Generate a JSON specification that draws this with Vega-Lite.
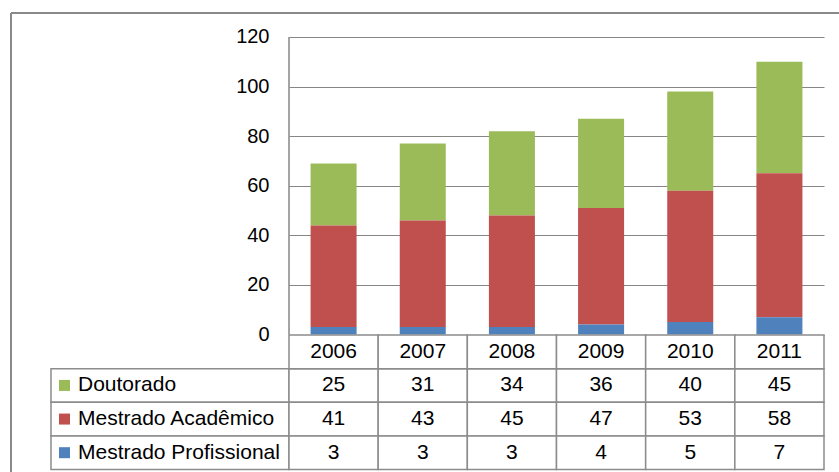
{
  "$schema": "https://vega.github.io/schema/vega-lite/v6.json",
  "padding": {"left": 10, "top": 12, "right": 0, "bottom": 0},
  "background": "white",
  "config": {"view": {"stroke": null}, "font": "Liberation Sans", "concat": {"spacing": 0}},
  "datasets": {
    "d": [
      {"year": "2006", "series": "Doutorado", "value": 25},
      {"year": "2007", "series": "Doutorado", "value": 31},
      {"year": "2008", "series": "Doutorado", "value": 34},
      {"year": "2009", "series": "Doutorado", "value": 36},
      {"year": "2010", "series": "Doutorado", "value": 40},
      {"year": "2011", "series": "Doutorado", "value": 45},
      {"year": "2006", "series": "Mestrado Acadêmico", "value": 41},
      {"year": "2007", "series": "Mestrado Acadêmico", "value": 43},
      {"year": "2008", "series": "Mestrado Acadêmico", "value": 45},
      {"year": "2009", "series": "Mestrado Acadêmico", "value": 47},
      {"year": "2010", "series": "Mestrado Acadêmico", "value": 53},
      {"year": "2011", "series": "Mestrado Acadêmico", "value": 58},
      {"year": "2006", "series": "Mestrado Profissional", "value": 3},
      {"year": "2007", "series": "Mestrado Profissional", "value": 3},
      {"year": "2008", "series": "Mestrado Profissional", "value": 3},
      {"year": "2009", "series": "Mestrado Profissional", "value": 4},
      {"year": "2010", "series": "Mestrado Profissional", "value": 5},
      {"year": "2011", "series": "Mestrado Profissional", "value": 7}
    ]
  },
  "columns": 2,
  "spacing": 0,
  "bounds": "flush",
  "concat": [
    {
      "width": 278,
      "height": 321.5,
      "data": {"values": [{"k": 1}]},
      "layer": [
        {
          "mark": {"type": "rule", "color": "#898989", "strokeWidth": 2},
          "encoding": {
            "x": {"datum": 0, "type": "quantitative", "scale": {"domain": [0, 1], "nice": false, "zero": false}, "axis": null},
            "x2": {"datum": 2.982},
            "y": {"datum": 1, "type": "quantitative", "scale": {"domain": [0, 1], "nice": false, "zero": false}, "axis": null}
          }
        },
        {
          "mark": {"type": "rule", "color": "#898989", "strokeWidth": 2},
          "encoding": {
            "x": {"datum": 0, "type": "quantitative"},
            "y": {"datum": 1, "type": "quantitative"},
            "y2": {"datum": -0.4308}
          }
        }
      ]
    },
    {
      "width": 535,
      "height": 321.5,
      "data": {"name": "d"},
      "layer": [
        {
          "mark": {"type": "bar"},
          "encoding": {
            "x": {"field": "year", "type": "ordinal", "scale": {"paddingInner": 0.484, "paddingOuter": 0.242}, "axis": null},
            "y": {
              "field": "value", "type": "quantitative", "stack": "zero",
              "scale": {"domain": [0, 129.68], "nice": false},
              "axis": {"values": [0, 20, 40, 60, 80, 100, 120], "grid": true, "gridColor": "#868686", "gridWidth": 1.2, "domain": false, "ticks": false, "labelPadding": 20, "labelFontSize": 20, "labelColor": "#000", "title": null}
            },
            "color": {"field": "series", "type": "nominal", "scale": {"domain": ["Doutorado", "Mestrado Acadêmico", "Mestrado Profissional"], "range": ["#9BBB59", "#C0504D", "#4F81BD"]}, "legend": null},
            "order": {"field": "series", "sort": "descending"}
          }
        },
        {
          "data": {"values": [{"k": 1}]},
          "mark": {"type": "rule", "color": "#868686", "strokeWidth": 1.5},
          "encoding": {
            "x": {"datum": 0, "type": "quantitative", "scale": {"domain": [0, 1], "nice": false, "zero": false}, "axis": null},
            "y": {"datum": 0, "type": "quantitative"},
            "y2": {"datum": 120}
          }
        }
      ],
      "resolve": {"scale": {"x": "independent"}}
    },
    {
      "width": 278,
      "height": 134.5,
      "data": {"name": "d"},
      "transform": [{"filter": "datum.year == '2006'"}],
      "encoding": {
        "y": {"field": "series", "type": "nominal", "scale": {"domain": ["_header", "Doutorado", "Mestrado Acadêmico", "Mestrado Profissional"], "paddingInner": 0, "paddingOuter": 0}, "axis": null}
      },
      "layer": [
        {
          "mark": {"type": "rect", "fill": "white", "stroke": "#8c8c8c", "strokeWidth": 1.5},
          "encoding": {
            "x": {"datum": "label", "type": "nominal", "scale": {"domain": ["label"], "paddingInner": 0, "paddingOuter": 0.084, "align": 1}, "axis": null}
          }
        },
        {
          "mark": {"type": "square", "size": 121, "opacity": 1, "filled": true, "xOffset": 13.5},
          "encoding": {
            "x": {"datum": "label", "type": "nominal", "bandPosition": 0},
            "color": {"field": "series", "type": "nominal", "scale": {"domain": ["Doutorado", "Mestrado Acadêmico", "Mestrado Profissional"], "range": ["#9BBB59", "#C0504D", "#4F81BD"]}, "legend": null}
          }
        },
        {
          "mark": {"type": "text", "align": "left", "baseline": "middle", "fontSize": 21, "dx": 27, "color": "#000"},
          "encoding": {
            "x": {"datum": "label", "type": "nominal", "bandPosition": 0},
            "text": {"field": "series"}
          }
        }
      ]
    },
    {
      "width": 535,
      "height": 134.5,
      "data": {"name": "d"},
      "layer": [
        {
          "mark": {"type": "rect", "fill": "white", "stroke": "#8c8c8c", "strokeWidth": 1.5},
          "encoding": {
            "x": {"field": "year", "type": "ordinal", "scale": {"paddingInner": 0, "paddingOuter": 0}, "axis": null},
            "y": {"field": "series", "type": "nominal", "scale": {"domain": ["_header", "Doutorado", "Mestrado Acadêmico", "Mestrado Profissional"], "paddingInner": 0, "paddingOuter": 0}, "axis": null}
          }
        },
        {
          "mark": {"type": "text", "fontSize": 21, "color": "#000", "baseline": "middle"},
          "encoding": {
            "x": {"field": "year", "type": "ordinal"},
            "y": {"field": "series", "type": "nominal"},
            "text": {"field": "value"}
          }
        },
        {
          "transform": [{"filter": "datum.series == 'Doutorado'"}],
          "mark": {"type": "rect", "fill": "white", "stroke": "#8c8c8c", "strokeWidth": 1.5},
          "encoding": {
            "x": {"field": "year", "type": "ordinal"},
            "y": {"datum": "_header", "type": "nominal"}
          }
        },
        {
          "transform": [{"filter": "datum.series == 'Doutorado'"}],
          "mark": {"type": "text", "fontSize": 21, "color": "#000", "baseline": "middle"},
          "encoding": {
            "x": {"field": "year", "type": "ordinal"},
            "y": {"datum": "_header", "type": "nominal"},
            "text": {"field": "year"}
          }
        }
      ]
    }
  ]
}
